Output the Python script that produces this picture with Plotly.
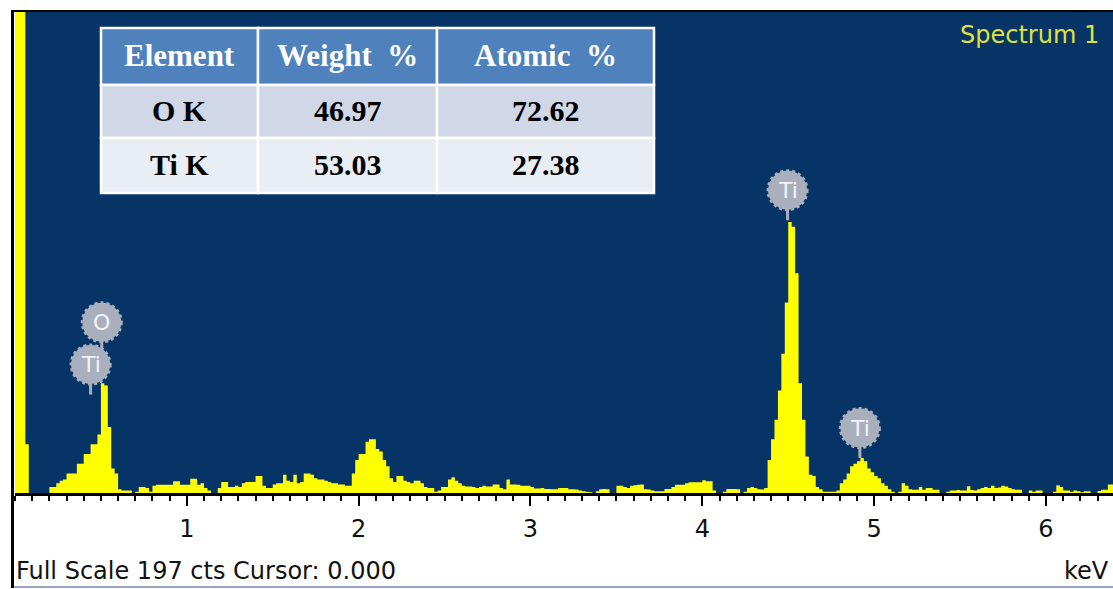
import plotly.graph_objects as go

# ---------------- data ----------------
BIN_WIDTH_KEV = 0.02          # channel width of the displayed spectrum
# counts per 0.02 keV channel, starting at 0.00 keV
COUNTS = [
    250, 250, 250, 20, 0, 0, 0, 0, 0, 0,                    # 0.00-0.20
    2.5, 2.5, 4, 5, 5.5, 8, 8, 8, 12, 12,                   # 0.20-0.40
    16, 16, 20, 20, 24, 45, 44, 27, 10, 8,                  # 0.40-0.60
    1.5, 1, 1, 1, 0, 0.5, 2.5, 2.5, 2, 0.5,                 # 0.60-0.80
    3, 3.4, 3.4, 3.4, 3.4, 3.4, 4.8, 4.8, 3.4, 3.4,         # 0.80-1.00
    3.4, 5.8, 5.8, 3.4, 4, 2, 1, 0, 0, 2,                   # 1.00-1.20
    4.5, 4.5, 2.5, 2.5, 3, 2.5, 4, 4.5, 4.5, 4.5,           # 1.20-1.40
    7, 7, 3, 2, 2, 3.5, 4, 4, 7.5, 5,                       # 1.40-1.60
    4.5, 7.5, 4, 4.5, 8, 8, 7.5, 6, 5.5, 5.5,               # 1.60-1.80
    5, 4.5, 4, 4, 3.5, 3.5, 3, 3, 8, 13.5,                  # 1.80-2.00
    16, 16, 21, 22, 22, 18, 17, 13.5, 11, 6,                # 2.00-2.20
    4.5, 7, 7, 5, 4.5, 4, 5, 5, 4, 2.5,                     # 2.20-2.40
    2, 2, 0.5, 1, 2.5, 2.5, 5.5, 6.5, 5, 4,                 # 2.40-2.60
    3, 2.7, 2.7, 2.5, 2, 2.5, 3, 2.7, 2.7, 3.5,             # 2.60-2.80
    3.5, 2, 1.5, 5.5, 3.5, 3.5, 3.4, 3, 3, 3,               # 2.80-3.00
    2.5, 1.8, 1.8, 2, 1.6, 1.6, 1.5, 1.5, 2, 2,             # 3.00-3.20
    2, 1.5, 1.5, 1.4, 1, 0.7, 0.5, 0.3, 0, 0.7,             # 3.20-3.40
    1.5, 1.6, 1.5, 0, 0, 3, 3, 2.5, 2, 3,                   # 3.40-3.60
    3.2, 3.4, 3.5, 1.5, 1.4, 1, 0.7, 0.7, 0.7, 1.6,         # 3.60-3.80
    1.6, 2.5, 3.4, 3.4, 3.4, 4, 4.4, 4.4, 4.4, 4.4,         # 3.80-4.00
    5.2, 4.8, 4.8, 1, 0, 0, 0.5, 1.6, 1.6, 1.6,             # 4.00-4.20
    1.5, 0, 0.5, 2, 2.5, 2, 1.5, 1.4, 2, 13.5,              # 4.20-4.40
    22, 30, 42, 57, 78, 111, 109, 90, 45, 30,               # 4.40-4.60
    15, 7.5, 7, 2.5, 1.5, 0.5, 0.5, 0.5, 0.5, 1,            # 4.60-4.80
    4, 5.5, 8, 11, 12, 13, 14.3, 13, 10, 8.5,               # 4.80-5.00
    7, 6, 4, 3, 1.5, 0.5, 0, 0.5, 4, 3,                     # 5.00-5.20
    1.5, 1.3, 1.3, 2.5, 1.3, 2, 2, 1.3, 1.3, 0,             # 5.20-5.40
    0, 0.5, 1, 1, 1.2, 1, 1, 2.8, 1.2, 1,                   # 5.40-5.60
    1.5, 2, 2.5, 2, 3, 2, 2.3, 3, 2.7, 2,                   # 5.60-5.80
    1.5, 1.3, 1.3, 0, 0, 1, 0.5, 1, 1, 0,                   # 5.80-6.00
    0, 0, 0.5, 3.2, 2.5, 1, 1, 0.5, 1, 0.7,                 # 6.00-6.20
    0.3, 0.7, 0.7, 0, 0, 0.8, 1.3, 1.3, 3.5, 3.5,           # 6.20-6.40
]
FULL_SCALE_CTS = 197
X_MAX_KEV = 6.39
X_TICKS = [1, 2, 3, 4, 5, 6]

# peak markers: element, energy (keV), marker height (cts)
PEAK_ELEMENTS = ["Ti", "O", "Ti", "Ti"]
PEAK_KEV = [0.44, 0.505, 4.496, 4.917]
PEAK_CTS = [52.6, 69.9, 124.0, 26.6]

# quantification table
TABLE_HEADER = ["Element", "Weight  %", "Atomic  %"]
TABLE_ELEMENTS = ["O K", "Ti K"]
TABLE_WEIGHT = ["46.97", "53.03"]
TABLE_ATOMIC = ["72.62", "27.38"]

SPECTRUM_NAME = "Spectrum 1"
STATUS_TEXT = "Full Scale 197 cts Cursor: 0.000"
UNIT_TEXT = "keV"

# ---------------- geometry helpers ----------------
W, H = 1113, 589
L, R, T, B = 15, 0, 12, 96
PW, PH = W - L - R, H - T - B


def px(x):
    return (x - L) / PW


def py(y):
    return (H - B - y) / PH


# step-histogram x (left channel edges + final edge)
edges = [round(i * BIN_WIDTH_KEV, 4) for i in range(len(COUNTS) + 1)]
ys = COUNTS + [COUNTS[-1]]

BLUE = "#073467"
YELLOW = "#ffff00"
GRAY = "#a9afbd"

fig = go.Figure()
fig.add_trace(go.Scatter(
    x=edges, y=ys, mode="lines", line=dict(shape="hv", width=0, color=YELLOW),
    fill="tozeroy", fillcolor=YELLOW, hoverinfo="skip", showlegend=False,
))

shapes = []
annotations = []

# peak marker bubbles
for el, e, c in zip(PEAK_ELEMENTS, PEAK_KEV, PEAK_CTS):
    shapes.append(dict(type="line", xref="x", yref="y", xsizemode="pixel", ysizemode="pixel",
                       xanchor=e, yanchor=c, x0=0, x1=0, y0=-18, y1=-30,
                       line=dict(color=GRAY, width=3), layer="above"))
for el, e, c in zip(PEAK_ELEMENTS, PEAK_KEV, PEAK_CTS):
    shapes.append(dict(type="circle", xref="x", yref="y", xsizemode="pixel", ysizemode="pixel",
                       xanchor=e, yanchor=c, x0=-19.5, x1=19.5, y0=-19.5, y1=19.5,
                       fillcolor=GRAY, line=dict(color=GRAY, width=3, dash="dot"), layer="above"))
    annotations.append(dict(x=e, y=c, xref="x", yref="y", text=el, showarrow=False,
                            xanchor="center", yanchor="middle",
                            font=dict(family="DejaVu Sans", size=22, color="#f3f4f7")))

# table drawn from rectangles
col_edges = [101, 258, 437, 654]
row_edges = [28, 85, 138, 193]
row_fill = ["#4f81bd", "#d0d8e8", "#e9edf4"]
rows = [TABLE_HEADER] + [list(r) for r in zip(TABLE_ELEMENTS, TABLE_WEIGHT, TABLE_ATOMIC)]
for r in range(3):
    for c in range(3):
        shapes.append(dict(type="rect", xref="paper", yref="paper",
                           x0=px(col_edges[c]), x1=px(col_edges[c + 1]),
                           y0=py(row_edges[r + 1]), y1=py(row_edges[r]),
                           fillcolor=row_fill[r], line=dict(color="white", width=2.5),
                           layer="above"))
        annotations.append(dict(
            x=px((col_edges[c] + col_edges[c + 1]) / 2),
            y=py((row_edges[r] + row_edges[r + 1]) / 2 - 1),
            xref="paper", yref="paper", showarrow=False, text=rows[r][c],
            xanchor="center", yanchor="middle",
            font=dict(family="Liberation Serif", size=31 if r == 0 else 30,
                      color="white" if r == 0 else "black", weight="bold")))

# frame lines
shapes.append(dict(type="line", xref="paper", yref="paper", x0=px(12.5), x1=px(12.5),
                   y0=py(10), y1=py(588), line=dict(color="black", width=3), layer="above"))
shapes.append(dict(type="line", xref="paper", yref="paper", x0=px(11), x1=px(1113),
                   y0=py(11), y1=py(11), line=dict(color="black", width=2), layer="above"))
shapes.append(dict(type="line", xref="paper", yref="paper", x0=px(14), x1=px(1113),
                   y0=py(587), y1=py(587), line=dict(color="#97a8c4", width=2), layer="above"))

annotations.append(dict(x=px(1101), y=py(35), xref="paper", yref="paper", xanchor="right",
                        yanchor="middle", showarrow=False, text=SPECTRUM_NAME,
                        font=dict(family="DejaVu Sans", size=24, color="#dfe23b")))
annotations.append(dict(x=px(14), y=py(571), xref="paper", yref="paper", xanchor="left",
                        yanchor="middle", showarrow=False, text=STATUS_TEXT,
                        font=dict(family="DejaVu Sans", size=24, color="#111111")))
annotations.append(dict(x=px(1111), y=py(571), xref="paper", yref="paper", xanchor="right",
                        yanchor="middle", showarrow=False, text=UNIT_TEXT,
                        font=dict(family="DejaVu Sans", size=24, color="#111111")))

fig.update_layout(
    width=W, height=H, margin=dict(l=L, r=R, t=T, b=B, pad=0),
    paper_bgcolor="white", plot_bgcolor=BLUE, showlegend=False,
    shapes=shapes, annotations=annotations,
    xaxis=dict(range=[0, X_MAX_KEV], tickmode="array", tickvals=X_TICKS,
               ticks="outside", ticklen=10, tickwidth=2, tickcolor="black",
               showline=True, linecolor="black", linewidth=3, showgrid=False, zeroline=False,
               tickfont=dict(family="DejaVu Sans", size=24, color="#111111"),
               ticklabelstandoff=2,
               minor=dict(tickmode="linear", tick0=0, dtick=0.1, ticks="outside", ticklen=5,
                          tickwidth=2, tickcolor="black", showgrid=False),
               fixedrange=True),
    yaxis=dict(range=[0, FULL_SCALE_CTS], visible=False, fixedrange=True),
)

fig.write_html("out.html")
